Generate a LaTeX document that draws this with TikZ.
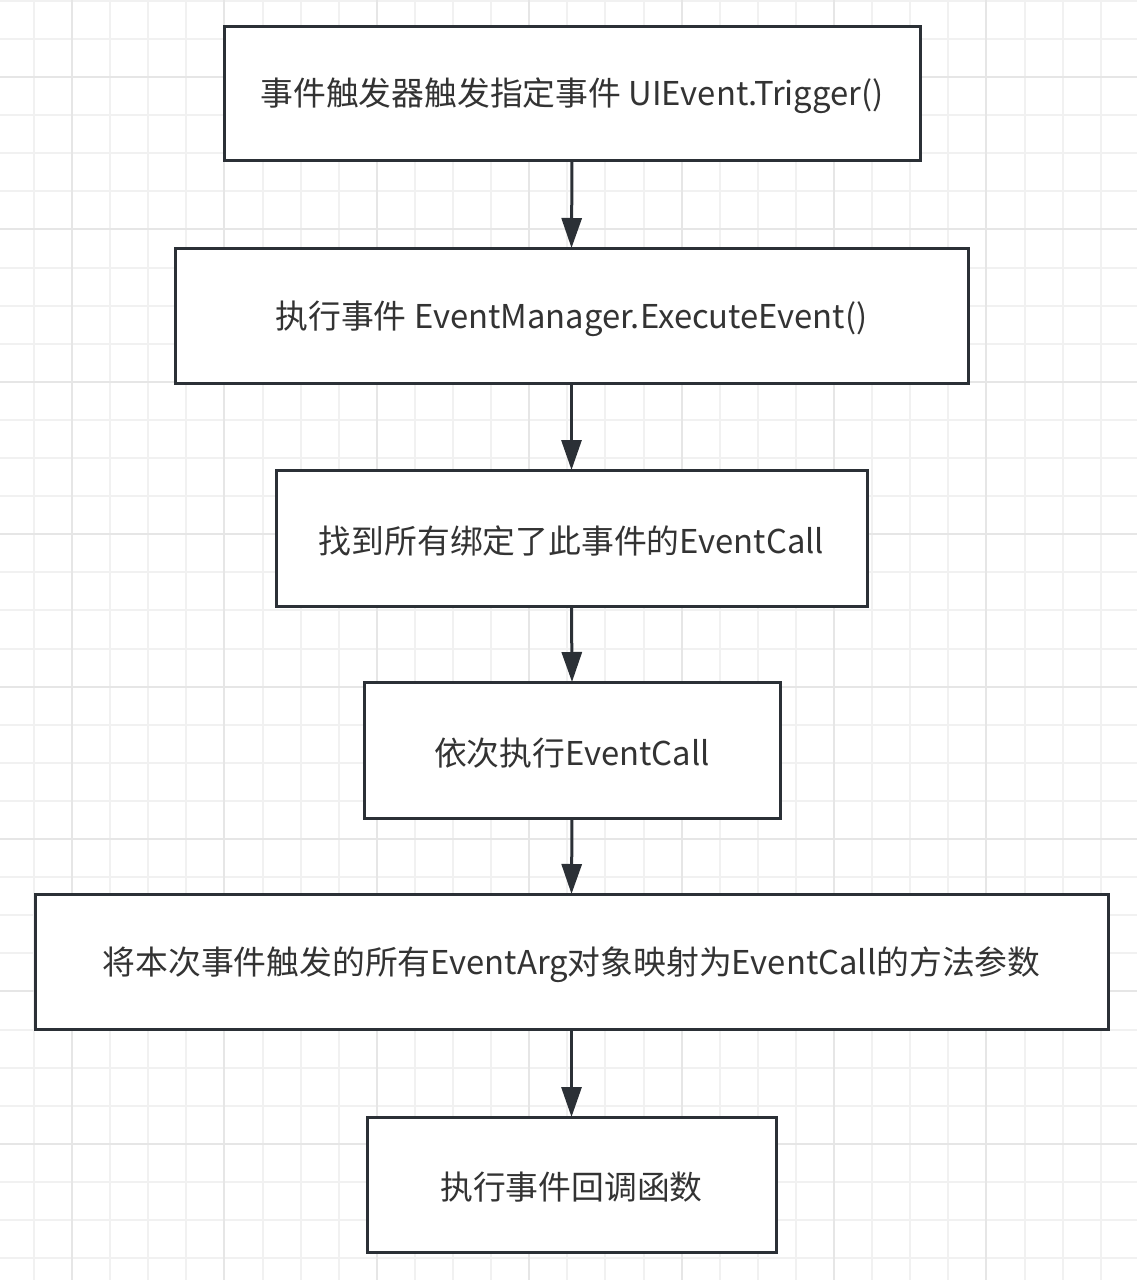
\documentclass[tikz,border=0pt]{standalone}
\usepackage{fontspec}
\setmainfont{Noto Sans CJK SC}
\usetikzlibrary{arrows.meta}
\definecolor{boxline}{HTML}{2B3036}
\definecolor{txt}{HTML}{333333}
\definecolor{gridminor}{HTML}{F1F1F1}
\definecolor{gridmajor}{HTML}{E6E6E6}
\newcommand{\lowtxt}[1]{\raisebox{-3pt}[\height][\depth]{#1}}
\begin{document}
\begin{tikzpicture}[x=1pt,y=-1pt,
  stepbox/.style={draw=boxline, line width=3pt, fill=white, text=txt,
    font=\fontsize{32.8}{38}\selectfont, inner sep=0pt, outer sep=0pt},
  flow/.style={draw=boxline, line width=3pt,
    -{Triangle[width=20pt,length=30pt]}}]
\useasboundingbox (0,0) rectangle (1137,1280);
\fill[white] (0,0) rectangle (1137,1280);
% grid
\foreach \i in {-1,...,29} {
  \pgfmathsetmacro{\gx}{72+38.1*\i}
  \draw[gridminor, line width=2pt] (\gx,0) -- (\gx,1280);
}
\foreach \i in {-2,...,31} {
  \pgfmathsetmacro{\gy}{77+38.1*\i}
  \draw[gridminor, line width=2pt] (0,\gy) -- (1137,\gy);
}
\foreach \i in {-1,...,7} {
  \pgfmathsetmacro{\gx}{72+152.4*\i}
  \draw[gridmajor, line width=2pt] (\gx,0) -- (\gx,1280);
}
\foreach \i in {-1,...,8} {
  \pgfmathsetmacro{\gy}{77+152.4*\i}
  \draw[gridmajor, line width=2pt] (0,\gy) -- (1137,\gy);
}
% boxes
\node[stepbox, minimum width=696pt, minimum height=134pt] (b1) at (572,93) {\lowtxt{事件触发器触发指定事件 UIEvent.Trigger()}};
\node[stepbox, minimum width=793pt, minimum height=135pt] (b2) at (571.5,315.5) {\lowtxt{执行事件 EventManager.ExecuteEvent()}};
\node[stepbox, minimum width=591pt, minimum height=136pt] (b3) at (571.5,538) {\lowtxt{找到所有绑定了此事件的EventCall}};
\node[stepbox, minimum width=416pt, minimum height=136pt] (b4) at (572,750) {\lowtxt{依次执行EventCall}};
\node[stepbox, minimum width=1073pt, minimum height=135pt] (b5) at (571.5,961.5) {\lowtxt{将本次事件触发的所有EventArg对象映射为EventCall的方法参数}};
\node[stepbox, minimum width=409pt, minimum height=135pt] (b6) at (571.5,1184.5) {\lowtxt{执行事件回调函数}};
% connectors
\draw[flow] (b1.south) -- (b2.north);
\draw[flow] (b2.south) -- (b3.north);
\draw[flow] (b3.south) -- (b4.north);
\draw[flow] (b4.south) -- (b5.north);
\draw[flow] (b5.south) -- (b6.north);
\end{tikzpicture}
\end{document}
